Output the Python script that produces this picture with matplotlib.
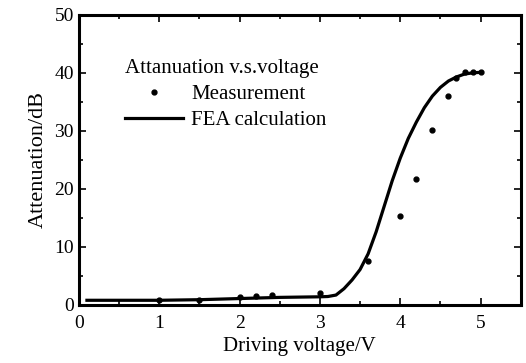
import numpy as np
import matplotlib
matplotlib.use('Agg')
import matplotlib.pyplot as plt
from matplotlib.ticker import MultipleLocator

plt.rcParams.update({'font.family': 'Liberation Serif', 'font.size': 13})

# measured points
meas_v = [1.0, 1.5, 2.0, 2.2, 2.4, 3.0, 3.6, 4.0, 4.2, 4.4, 4.6, 4.7, 4.8, 4.9, 5.0]
meas_db = [0.9, 0.9, 1.3, 1.5, 1.7, 2.0, 7.5, 15.4, 21.7, 30.2, 36.1, 39.2, 40.2, 40.2, 40.2]

# FEA curve
fea_v = [0.1, 1.0, 1.5, 2.0, 2.5, 3.0, 3.1, 3.2, 3.3, 3.4, 3.5, 3.6, 3.7, 3.8, 3.9, 4.0,
         4.1, 4.2, 4.3, 4.4, 4.5, 4.6, 4.7, 4.8, 4.9, 5.0]
fea_db = [0.8, 0.8, 0.9, 1.1, 1.3, 1.4, 1.45, 1.7, 2.8, 4.3, 6.1, 8.8, 12.6, 17.0, 21.4, 25.3,
          28.7, 31.5, 34.0, 36.0, 37.5, 38.6, 39.3, 39.8, 40.0, 40.1]

fig = plt.figure(figsize=(5.26, 3.63), dpi=100)
ax = fig.add_axes([0.150, 0.160, 0.840, 0.799])

ax.plot(meas_v, meas_db, 'ko', ms=3.5, ls='none', label='Measurement')
ax.plot(fea_v, fea_db, 'k-', lw=2.3, label='FEA calculation')

ax.set_xlim(0, 5.5)
ax.set_ylim(0, 50)
ax.xaxis.set_major_locator(MultipleLocator(1))
ax.xaxis.set_minor_locator(MultipleLocator(0.5))
ax.yaxis.set_major_locator(MultipleLocator(10))
ax.yaxis.set_minor_locator(MultipleLocator(5))
ax.set_xticks([0, 1, 2, 3, 4, 5])
ax.tick_params(which='both', direction='in', top=True, right=True, width=1.2)
ax.tick_params(which='major', length=5, labelsize=14)
ax.tick_params(axis='x', which='major', pad=7)
ax.tick_params(which='minor', length=3)
for s in ax.spines.values():
    s.set_linewidth(2.2)

ax.set_xlabel('Driving voltage/V', fontsize=15, labelpad=4)
ax.set_ylabel('Attenuation/dB', fontsize=16, labelpad=5)

leg = ax.legend(title='Attanuation v.s.voltage', frameon=False, loc='upper left',
                bbox_to_anchor=(0.085, 0.875), fontsize=15, title_fontsize=15,
                handlelength=2.8, handletextpad=0.4, borderaxespad=0,
                labelspacing=0.3, alignment='left')

fig.savefig('out.png', dpi=100)
